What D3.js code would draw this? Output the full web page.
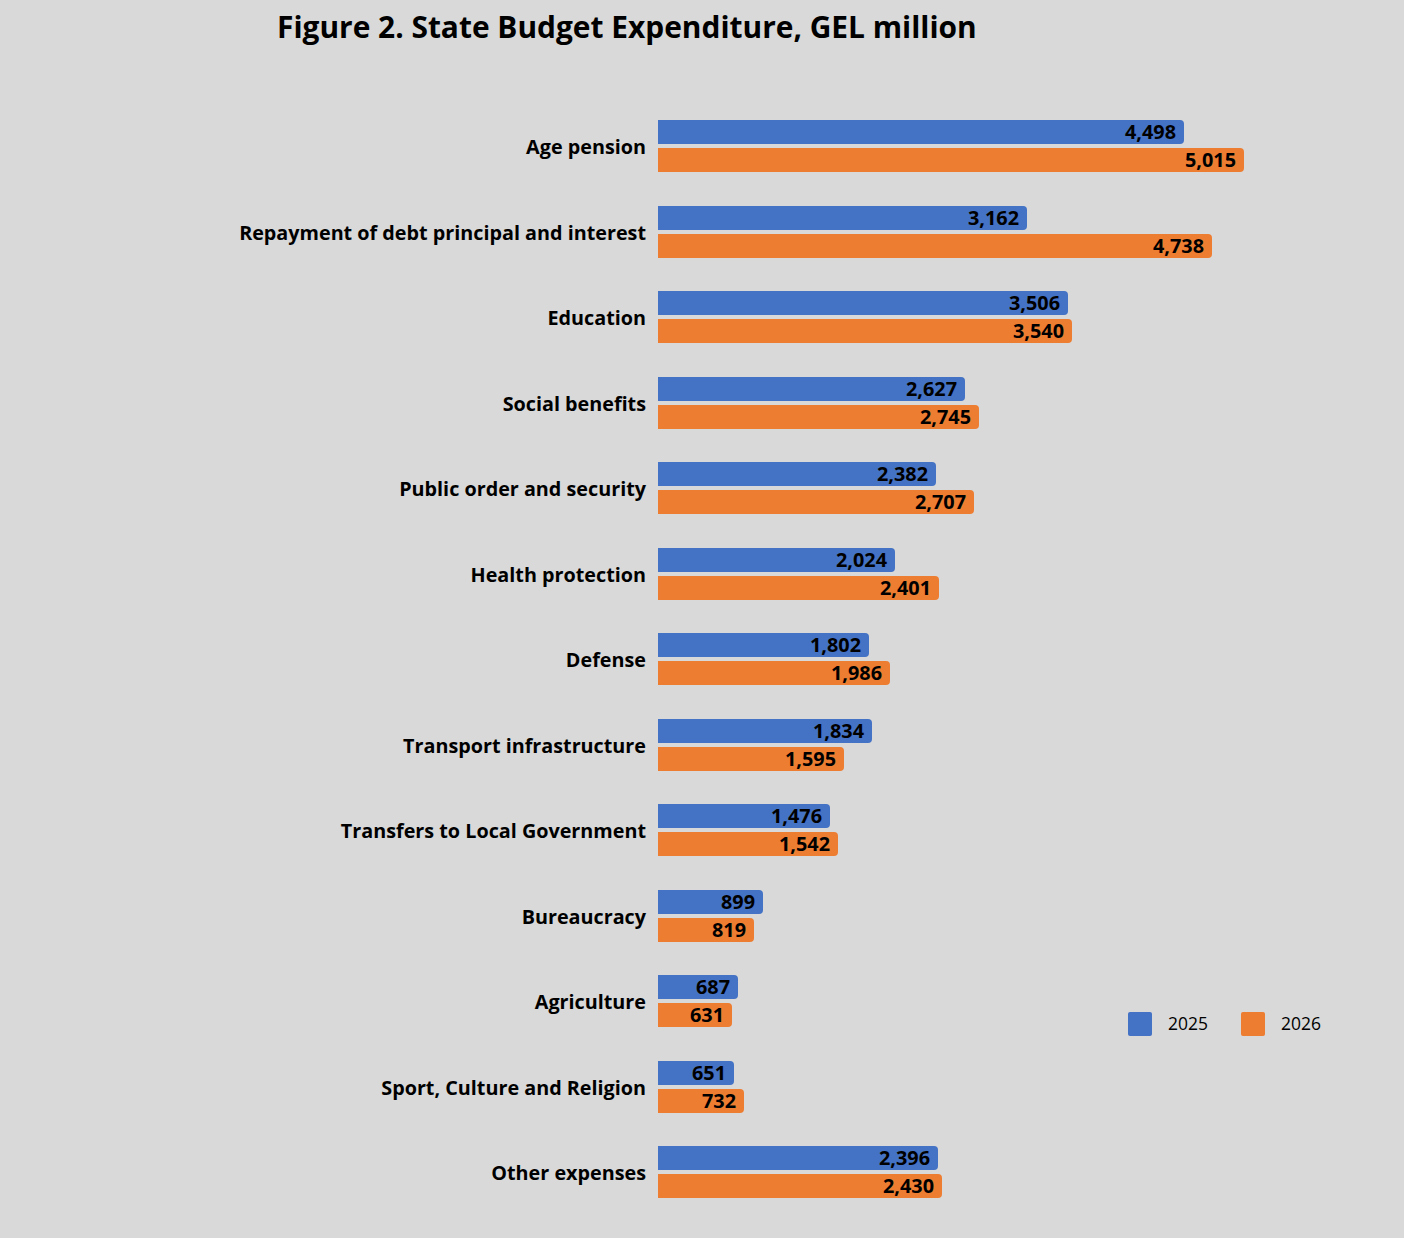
<!DOCTYPE html>
<html>
<head>
<meta charset="utf-8">
<script src="https://cdn.jsdelivr.net/npm/d3@7"></script>
<style>
  body { margin: 0; background: #d9d9d9; }
  svg { display: block; }
  text { font-family: "Open Sans", sans-serif; fill: #000; }
</style>
</head>
<body>
<script>
/* Data */
const categories = [
  "Age pension",
  "Repayment of debt principal and interest",
  "Education",
  "Social benefits",
  "Public order and security",
  "Health protection",
  "Defense",
  "Transport infrastructure",
  "Transfers to Local Government",
  "Bureaucracy",
  "Agriculture",
  "Sport, Culture and Religion",
  "Other expenses"
];
const values2025 = [4498, 3162, 3506, 2627, 2382, 2024, 1802, 1834, 1476, 899, 687, 651, 2396];
const values2026 = [5015, 4738, 3540, 2745, 2707, 2401, 1986, 1595, 1542, 819, 631, 732, 2430];
const seriesNames = ["2025", "2026"];
const colors = ["#4472c4", "#ed7d31"];

/* Constants */
const w = 1404;
const h = 1238;
const x0 = 658;
const barH = 24;
const barGap = 4;

const svg = d3.select("body").append("svg")
  .attr("width", w)
  .attr("height", h);

svg.append("rect").attr("width", w).attr("height", h).attr("fill", "#d9d9d9");

// fit a font size so a sample string gets the wanted width
let fitSize = (sample, weight, target) => {
  const t = svg.append("text").attr("font-size", 100).attr("font-weight", weight).text(sample);
  const len = t.node().getComputedTextLength();
  t.remove();
  return 100 * target / len;
};

/* Scales */
const xScale = d3.scaleLinear()
  .domain([0, 5015])
  .range([x0, 1244]);

const yScale = d3.scaleBand()
  .domain(categories)
  .range([103.5, 1215]);

// middle of a category row, snapped to whole pixels
let yMid = c => Math.round(yScale(c) + yScale.bandwidth() / 2);

const series = seriesNames.map((name, s) => ({
  name: name,
  color: colors[s],
  values: s === 0 ? values2025 : values2026
}));

/* Title */
svg.append("text")
  .attr("x", 277)
  .attr("y", 38)
  .attr("font-size", fitSize("Figure 2. State Budget Expenditure, GEL million", 700, 700))
  .attr("font-weight", 700)
  .text("Figure 2. State Budget Expenditure, GEL million");

/* Category labels */
const catSize = fitSize("Repayment of debt principal and interest", 700, 407);
svg.selectAll(".cat")
  .data(categories)
  .enter()
  .append("text")
  .attr("class", "cat")
  .attr("x", 646)
  .attr("y", d => yMid(d) + 1)
  .attr("dy", "0.35em")
  .attr("text-anchor", "end")
  .attr("font-size", catSize)
  .attr("font-weight", 700)
  .text(d => d);

/* Bars: square left edge, rounded right end */
let barPath = (x1, y, x2, hgt, r) => {
  const p = d3.path();
  p.moveTo(x1, y);
  p.lineTo(x2 - r, y);
  p.quadraticCurveTo(x2, y, x2, y + r);
  p.lineTo(x2, y + hgt - r);
  p.quadraticCurveTo(x2, y + hgt, x2 - r, y + hgt);
  p.lineTo(x1, y + hgt);
  p.closePath();
  return p.toString();
};

const valSize = fitSize("4,498", 700, 51);
const fmt = d3.format(",");

series.forEach((s, si) => {
  const yOff = si === 0 ? -(barH + barGap / 2) : barGap / 2;
  const g = svg.append("g").attr("class", "series-" + s.name);

  g.selectAll("path")
    .data(s.values)
    .enter()
    .append("path")
    .attr("d", (d, i) => barPath(xScale(0), yMid(categories[i]) + yOff, Math.round(xScale(d)), barH, 4))
    .attr("fill", s.color);

  g.selectAll("text")
    .data(s.values)
    .enter()
    .append("text")
    .attr("x", d => Math.round(xScale(d)) - 8)
    .attr("y", (d, i) => yMid(categories[i]) + yOff + barH / 2)
    .attr("dy", "0.36em")
    .attr("text-anchor", "end")
    .attr("font-size", valSize)
    .attr("font-weight", 700)
    .text(d => fmt(d));
});

/* Legend */
const legSize = fitSize("2025", 400, 40);
const legend = svg.append("g").attr("transform", "translate(1128,1012)");
const legItem = legend.selectAll("g")
  .data(series)
  .enter()
  .append("g")
  .attr("transform", (d, i) => "translate(" + (i * 113) + ",0)");

legItem.append("rect")
  .attr("width", 24)
  .attr("height", 24)
  .attr("rx", 2)
  .attr("fill", d => d.color);

legItem.append("text")
  .attr("x", 40)
  .attr("y", 12)
  .attr("dy", "0.36em")
  .attr("font-size", legSize)
  .text(d => d.name);
</script>
</body>
</html>
